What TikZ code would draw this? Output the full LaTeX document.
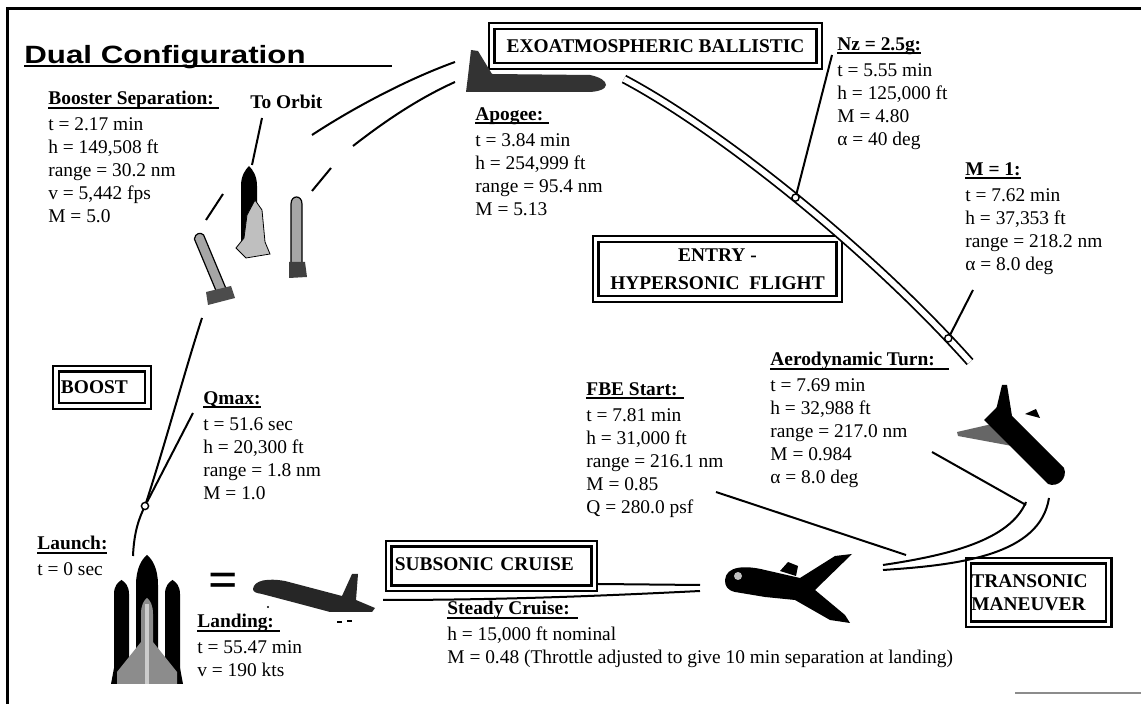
\documentclass[tikz,border=0pt]{standalone}
\usepackage{fontspec}
\setmainfont{Liberation Serif}
\setsansfont{Liberation Sans}
\usepackage{graphicx}

\newcommand{\infohead}[2][0pt]{%
    \sbox0{\textbf{#2}\hspace{#1}}%
    \rlap{\rule[-2pt]{\wd0}{0.9pt}}\usebox0}

\begin{document}
\begin{tikzpicture}[%
    x=0.5pt, y=-0.5pt,
    info/.style={%
        align=left,
        anchor=north west,
        inner sep=0pt,
        yshift=8.05pt,
        font=\fontsize{9.7}{11.5}\selectfont,
        execute at begin node=\strut
    },
    phasebox/.style={%
        draw,
        double,
        double distance=1.6pt,
        line width=1.1pt,
        inner sep=1.5pt,
        font=\fontsize{9.7}{11.5}\selectfont\bfseries
    },
    station/.style={%
        draw,
        circle,
        fill=white,
        inner sep=0pt,
        minimum size=3.6pt,
        line width=0.7pt
    },
    traj/.style={line width=1pt},
    twin/.style={double, double distance=2.8pt, line width=0.9pt},
    pointer/.style={line width=1pt},
    craft/.style={fill=black},
    booster/.style={fill=black!35, draw=black, line width=0.6pt}
]
\useasboundingbox (0,0) rectangle (1141,704);

% Frame
\draw[line width=1.5pt] (7,704) -- (7,9) -- (1141,9);
\draw[black!45, line width=0.6pt] (1015,693) -- (1141,693);

% Title
\node[anchor=base west, inner sep=0pt] (title) at (24,64)
    {\fontsize{12.5}{14}\selectfont\sffamily\bfseries\scalebox{1.25}[1]{Dual Configuration}};
\draw[line width=1pt] ([yshift=-1.2pt]title.base west) -- ++(368,0);

% Phase boxes
\node[phasebox, minimum width=163.7pt, minimum height=20pt] (exoBox) at (655.5,46) {EXOATMOSPHERIC BALLISTIC};
\node[phasebox, minimum width=121.7pt, minimum height=30pt, align=center] (entryBox) at (717.5,269) {ENTRY -\\[2.5pt]HYPERSONIC~~FLIGHT};
\node[phasebox, minimum height=18.6pt, text width=41pt, align=left, inner xsep=2.5pt] (boostBox) at (102,387.5) {BOOST};
\node[phasebox, minimum height=31.7pt, text width=67.2pt, align=left, inner xsep=1.5pt] (transBox) at (1038.5,592.5) {TRANSONIC\\MANEUVER};

% Launch stack
\fill[craft] (136,684) -- (136,585) .. controls (136,568) and (142,559) .. (147,555) .. controls (152,559) and (158,568) .. (158,585) -- (158,684) -- cycle;
\fill[craft] (114,684) -- (114,594) .. controls (114,586) and (118,582) .. (121.5,580) .. controls (125,582) and (129,586) .. (129,594) -- (129,684) -- cycle;
\fill[craft] (165,684) -- (165,594) .. controls (165,586) and (169,582) .. (172.5,580) .. controls (176,582) and (180,586) .. (180,594) -- (180,684) -- cycle;
\fill[craft] (111,684) -- (114,668) -- (129,668) -- (132,684) -- cycle;
\fill[craft] (162,684) -- (165,668) -- (180,668) -- (183,684) -- cycle;
\fill[black!45] (117,684) -- (117,672) -- (141,642) -- (141,614) .. controls (141,605) and (144,600) .. (147,598) .. controls (150,600) and (153,605) .. (153,614) -- (153,642) -- (177,672) -- (177,684) -- cycle;
\fill[black!20] (145,604) rectangle (149,684);

% Landing orbiter
\fill[black!85] (253,589) .. controls (254,580) and (268,578) .. (285,581) -- (342,596) -- (352,574) -- (358,574) -- (356,600) -- (375,608) -- (372,612) -- (330,612) -- (300,604) -- (262,594) .. controls (256,593) and (253,592) .. (253,589) -- cycle;
\draw[line width=1pt] (337,622) -- (342,622) (347,621) -- (352,621);
\fill (268,607) circle (1.2);

% Booster separation
\fill[craft] (241,252) -- (241,186) .. controls (241,176) and (245,170) .. (249,166) .. controls (253,170) and (257,176) .. (257,186) -- (257,252) -- cycle;
\filldraw[fill=black!25, line width=0.4pt] (247,215) -- (255,200) -- (262,210) -- (265,242) -- (270,254) -- (246,258) -- (236,248) -- (244,238) -- cycle;
\draw[booster] (194.4,239) .. controls (195,233) and (201,232) .. (203.6,235) -- (226.6,290) -- (217.4,294) -- cycle;
\fill[black!70] (206,292) -- (231,286) -- (235,298) -- (208,305) -- cycle;
\draw[booster] (291,265) -- (291,204) .. controls (291,199) and (294,197) .. (296.5,197) .. controls (299,197) and (302,199) .. (302,204) -- (302,265) -- cycle;
\fill[black!75] (289,262) -- (305,262) -- (307,277) -- (289,278) -- cycle;

% Apogee orbiter
\fill[black!80] (466,92) -- (468,76) -- (471,50) -- (478,51) -- (492,74) -- (590,75) .. controls (600,77) and (606,81) .. (606,85) .. controls (606,89) and (598,92) .. (588,92) -- cycle;

% Descent orbiter
\fill[black!60] (992,424) -- (957,432) -- (958,436) -- (1012,446) -- cycle;
\fill[craft] (1000,404) -- (1064,468) .. controls (1068,478) and (1058,488) .. (1048,484) -- (984,420) -- cycle;
\fill[craft] (996,410) -- (1002,385) -- (1007,385) -- (1012,416) -- cycle;
\fill[craft] (1025,414) -- (1036,409) -- (1040,418) -- cycle;

% Cruise orbiter
\fill[craft] (725,580) .. controls (726,566) and (745,565) .. (765,570) -- (800,578) -- (835,556) -- (852,554) -- (815,590) -- (845,615) -- (850,623) -- (830,620) -- (795,600) -- (765,597) -- (735,592) .. controls (727,590) and (725,586) .. (725,580) -- cycle;
\fill[craft] (780,571) -- (788,562) -- (798,566) -- (796,576) -- cycle;
\fill[black!25] (738,576) circle (4);

% Equals sign
\node[anchor=base, inner sep=0pt] (equal) at (223,598) {\fontsize{26}{26}\selectfont\bfseries =};

% Trajectory points
\coordinate (launchTop) at (133,556);
\coordinate (qmax) at (145,506);
\coordinate (boostEnd) at (202,318);
\coordinate (sepLeftA) at (206,220);
\coordinate (sepLeftB) at (223,194);
\coordinate (sepRightA) at (312,191);
\coordinate (sepRightB) at (331,168);
\coordinate (climbA) at (312,135);
\coordinate (climbB) at (455,62);
\coordinate (climbC) at (353,146);
\coordinate (climbD) at (455,82);
\coordinate (entryStart) at (624,79);
\coordinate (entryEnd) at (970,362);
\coordinate (turnInA) at (1026,502);
\coordinate (turnInB) at (1049,498);
\coordinate (turnOutA) at (883,565);
\coordinate (turnOutB) at (883,570);
\coordinate (cruiseA) at (383,600);
\coordinate (cruiseB) at (700,591);
\coordinate (cruiseC) at (598,584);
\coordinate (cruiseD) at (700,585);

% Trajectory
\draw[traj] (launchTop) .. controls (134,532) and (139,518) .. (qmax) .. controls (165,445) and (185,370) .. (boostEnd);
\draw[traj] (sepLeftA) -- (sepLeftB);
\draw[traj] (sepRightA) -- (sepRightB);
\draw[traj] (climbA) .. controls (350,110) and (405,80) .. (climbB);
\draw[traj] (climbC) .. controls (380,125) and (415,100) .. (climbD);
\draw[twin] (entryStart) .. controls (720,130) and (870,250) .. (entryEnd);
\draw[traj] (turnInA) .. controls (1010,540) and (950,555) .. (turnOutA);
\draw[traj] (turnInB) .. controls (1040,555) and (960,565) .. (turnOutB);
\draw[traj] (cruiseA) .. controls (500,600) and (600,596) .. (cruiseB);
\draw[traj] (cruiseC) -- (cruiseD);

% Stations
\node[station] (qmaxMark) at (qmax) {};
\path (entryStart) .. controls (720,130) and (870,250) .. (entryEnd)
    node[station, pos=0.5] (nzMark) {}
    node[station, pos=0.93] (mOneMark) {};

% Pointers
\coordinate (orbitTip) at (262,118);
\coordinate (orbitEnd) at (252,165);
\coordinate (qmaxTip) at (193,413);
\coordinate (nzTip) at (832,55);
\coordinate (mOneTip) at (973,290);
\coordinate (fbeTip) at (716,492);
\coordinate (fbeEnd) at (906,555);
\coordinate (aeroTip) at (932,452);
\coordinate (aeroEnd) at (1026,505);
\draw[pointer] (orbitTip) -- (orbitEnd);
\draw[pointer] (qmaxTip) -- (qmaxMark);
\draw[pointer] (nzTip) -- (nzMark);
\draw[pointer] (mOneTip) -- (mOneMark);
\draw[pointer] (fbeTip) -- (fbeEnd);
\draw[pointer] (aeroTip) -- (aeroEnd);

% Event data
\node[info] (boosterSep) at (48,107) {\infohead[2.5pt]{Booster Separation:}\\[1.5pt] t = 2.17 min\\ h = 149,508 ft\\ range = 30.2 nm\\ v = 5,442 fps\\ M = 5.0};
\node[info] (toOrbit) at (250,108) {\textbf{To Orbit}};
\node[info] (apogee) at (475,123) {\infohead[3pt]{Apogee:}\\[1.5pt] t = 3.84 min\\ h = 254,999 ft\\ range = 95.4 nm\\ M = 5.13};
\node[info] (nzLoad) at (837,53) {\infohead{Nz = 2.5g:}\\[1.5pt] t = 5.55 min\\ h = 125,000 ft\\ M = 4.80\\ α = 40 deg};
\node[info] (machOne) at (965,178) {\infohead{M = 1:}\\[1.5pt] t = 7.62 min\\ h = 37,353 ft\\ range = 218.2 nm\\ α = 8.0 deg};
\node[info] (aeroTurn) at (770,368) {\infohead[7pt]{Aerodynamic Turn:}\\[1.5pt] t = 7.69 min\\ h = 32,988 ft\\ range = 217.0 nm\\ M = 0.984\\ α = 8.0 deg};
\node[info] (fbeStart) at (586,398) {\infohead[3.5pt]{FBE Start:}\\[1.5pt] t = 7.81 min\\ h = 31,000 ft\\ range = 216.1 nm\\ M = 0.85\\ Q = 280.0 psf};
\node[info] (qmaxData) at (203,407) {\infohead{Qmax:}\\[1.5pt] t = 51.6 sec\\ h = 20,300 ft\\ range = 1.8 nm\\ M = 1.0};
\node[info] (launch) at (37,552) {\infohead{Launch:}\\[1.5pt] t = 0 sec};
\node[info] (landing) at (197,630) {\infohead[3pt]{Landing:}\\[1.5pt] t = 55.47 min\\ v = 190 kts};
\node[info] (steadyCruise) at (447,617) {\infohead[4pt]{Steady Cruise:}\\[1.5pt] h = 15,000 ft nominal\\ M = 0.48 (Throttle adjusted to give 10 min separation at landing)};

% Subsonic box over the cruise line
\node[phasebox, fill=white, minimum height=22.2pt, text width=96.7pt, align=left, inner xsep=3pt, text depth=2pt] (cruiseBox) at (491.5,566) {SUBSONIC CRUISE};

\end{tikzpicture}
\end{document}
